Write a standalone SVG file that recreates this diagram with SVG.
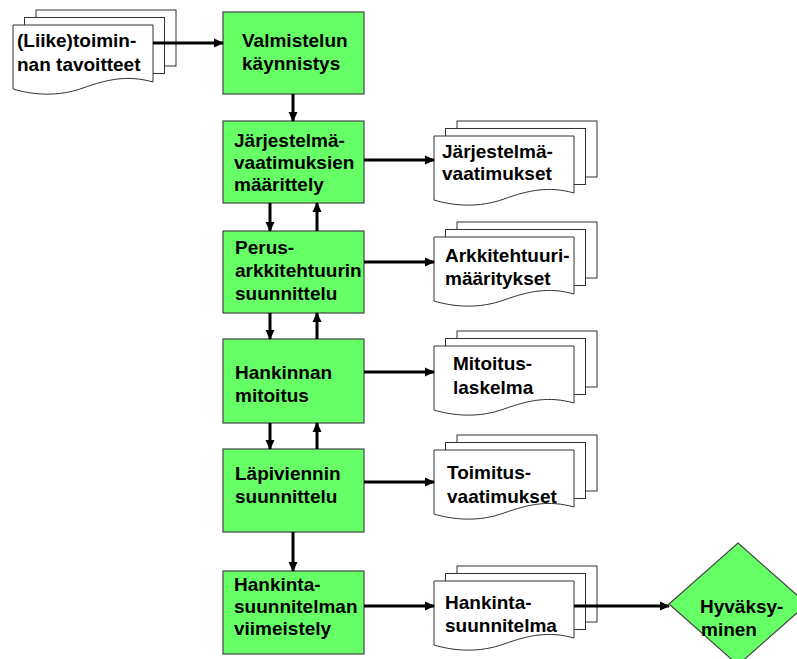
<svg xmlns="http://www.w3.org/2000/svg" xmlns:xlink="http://www.w3.org/1999/xlink" width="797" height="659" viewBox="0 0 797 659">
<style>
.box{fill:#66ff66;stroke:#444;stroke-width:1.2}
.page{fill:#fff;stroke:#333;stroke-width:1}
.t{font-family:"Liberation Sans",Arial,sans-serif;font-weight:bold;font-size:19px;fill:#000}
.c{stroke:#000;stroke-width:3;fill:none;marker-end:url(#ah)}
</style>
<defs>
<marker id="ah" markerWidth="10" markerHeight="10" refX="9" refY="5" orient="auto" markerUnits="userSpaceOnUse">
<path d="M0,0.5 L10,5 L0,9.5 Z" fill="#000"/>
</marker>
<g id="doc">
<rect class="page" x="23" y="-15" width="140" height="56"/>
<rect class="page" x="11.5" y="-7.5" width="140" height="56"/>
<path class="page" d="M0,0 H140 V57 C115,50 95,54 70,63 C45,72 20,70 0,64 Z"/>
</g>
</defs>
<rect width="797" height="659" fill="#fff"/>

<g id="doc-tavoitteet">
<use xlink:href="#doc" href="#doc" transform="translate(13,25)"/>
<text class="t" x="17" y="47">(Liike)toimin-</text>
<text class="t" x="17" y="71">nan tavoitteet</text>
</g>

<g id="valmistelu">
<rect class="box" x="223" y="12" width="141" height="82"/>
<text class="t" x="242" y="47">Valmistelun</text>
<text class="t" x="242" y="70">käynnistys</text>
</g>

<g id="jarjestelmavaatimukset-maarittely">
<rect class="box" x="223" y="121" width="141" height="82"/>
<text class="t" x="234" y="147">Järjestelmä-</text>
<text class="t" x="234" y="169">vaatimuksien</text>
<text class="t" x="234" y="191">määrittely</text>
</g>

<g id="perusarkkitehtuuri">
<rect class="box" x="223" y="231" width="141" height="82"/>
<text class="t" x="235" y="254">Perus-</text>
<text class="t" x="235" y="277">arkkitehtuurin</text>
<text class="t" x="235" y="300">suunnittelu</text>
</g>

<g id="mitoitus">
<rect class="box" x="223" y="339" width="141" height="84"/>
<text class="t" x="235" y="379">Hankinnan</text>
<text class="t" x="235" y="402">mitoitus</text>
</g>

<g id="lapivienti">
<rect class="box" x="223" y="449" width="141" height="83"/>
<text class="t" x="235" y="480">Läpiviennin</text>
<text class="t" x="235" y="503">suunnittelu</text>
</g>

<g id="viimeistely">
<rect class="box" x="223" y="571" width="141" height="83"/>
<text class="t" x="234" y="591">Hankinta-</text>
<text class="t" x="234" y="613">suunnitelman</text>
<text class="t" x="234" y="635">viimeistely</text>
</g>

<g id="doc-jarjestelmavaatimukset">
<use xlink:href="#doc" href="#doc" transform="translate(434,136)"/>
<text class="t" x="442" y="158">Järjestelmä-</text>
<text class="t" x="442" y="180">vaatimukset</text>
</g>

<g id="doc-arkkitehtuuri">
<use xlink:href="#doc" href="#doc" transform="translate(434,237)"/>
<text class="t" x="445" y="262">Arkkitehtuuri-</text>
<text class="t" x="445" y="285">määritykset</text>
</g>

<g id="doc-mitoitus">
<use xlink:href="#doc" href="#doc" transform="translate(434,346)"/>
<text class="t" x="453" y="370">Mitoitus-</text>
<text class="t" x="453" y="394">laskelma</text>
</g>

<g id="doc-toimitus">
<use xlink:href="#doc" href="#doc" transform="translate(434,450)"/>
<text class="t" x="447" y="479">Toimitus-</text>
<text class="t" x="447" y="503">vaatimukset</text>
</g>

<g id="doc-hankintasuunnitelma">
<use xlink:href="#doc" href="#doc" transform="translate(434,581)"/>
<text class="t" x="445" y="609">Hankinta-</text>
<text class="t" x="445" y="632">suunnitelma</text>
</g>

<g id="hyvaksyminen">
<polygon class="box" points="738,543 807,604 738,665 669,604"/>
<text class="t" x="700" y="613">Hyväksy-</text>
<text class="t" x="701" y="636">minen</text>
</g>

<g id="connectors">
<line class="c" x1="153" y1="43" x2="223" y2="43"/>
<line class="c" x1="293" y1="94" x2="293" y2="121"/>
<line class="c" x1="364" y1="160" x2="434" y2="160"/>
<line class="c" x1="270" y1="203" x2="270" y2="231"/>
<line class="c" x1="317" y1="231" x2="317" y2="203"/>
<line class="c" x1="364" y1="262" x2="434" y2="262"/>
<line class="c" x1="270" y1="313" x2="270" y2="339"/>
<line class="c" x1="317" y1="339" x2="317" y2="313"/>
<line class="c" x1="364" y1="372" x2="434" y2="372"/>
<line class="c" x1="270" y1="423" x2="270" y2="449"/>
<line class="c" x1="317" y1="449" x2="317" y2="423"/>
<line class="c" x1="364" y1="482" x2="434" y2="482"/>
<line class="c" x1="293" y1="532" x2="293" y2="571"/>
<line class="c" x1="364" y1="606" x2="434" y2="606"/>
<line class="c" x1="574" y1="606" x2="669" y2="606"/>
</g>
</svg>
